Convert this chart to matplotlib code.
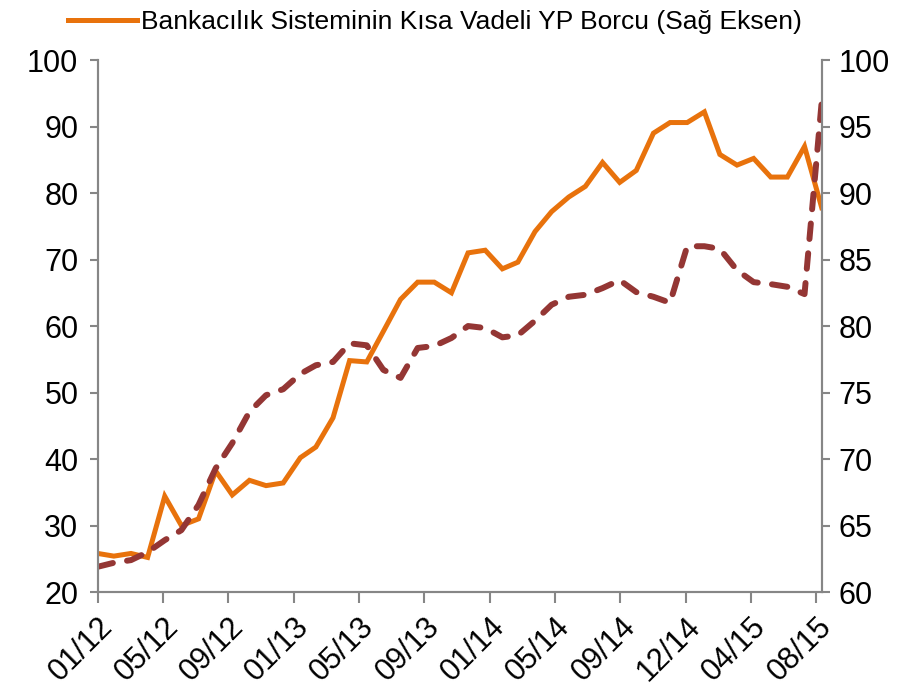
import matplotlib.pyplot as plt
from matplotlib.lines import Line2D
import numpy as np
import pandas as pd

plt.rcParams['font.family'] = ['Liberation Sans', 'DejaVu Sans']

# aylik veriler, 01/12 - 08/15
tarihler = pd.date_range('2012-01-31', periods=44, freq='ME')

# kesikli seri (sol eksen)
sol_seri = [23.8, 24.4, 24.8, 26.0, 27.8, 29.3, 33.1, 38.6, 42.4, 47.1,
            49.6, 50.5, 52.8, 54.1, 54.6, 57.4, 57.1, 53.4, 52.2, 56.7,
            57.0, 58.2, 60.0, 59.7, 58.3, 58.6, 60.8, 63.2, 64.4, 64.7,
            65.7, 66.9, 65.1, 64.4, 63.5, 72.0, 72.0, 71.6, 68.4, 66.6,
            66.3, 65.9, 64.8, 93.7]

# Bankacilik sisteminin kisa vadeli YP borcu (sag eksen)
kv_borc = [62.9, 62.7, 62.9, 62.6, 67.2, 65.0, 65.5, 69.1, 67.3, 68.4,
           68.0, 68.2, 70.1, 70.9, 73.1, 77.4, 77.3, 79.6, 82.0, 83.3,
           83.3, 82.5, 85.5, 85.7, 84.3, 84.8, 87.1, 88.6, 89.7, 90.5,
           92.3, 90.8, 91.7, 94.5, 95.3, 95.3, 96.1, 92.9, 92.1, 92.6,
           91.2, 91.2, 93.5, 88.9]

etiketler = ['01/12', '05/12', '09/12', '01/13', '05/13', '09/13',
             '01/14', '05/14', '09/14', '12/14', '04/15', '08/15']

turuncu = '#E8720C'
bordo = '#943634'
gri = '#868686'

fig = plt.figure(figsize=(9.14, 6.9), dpi=100)
ax1 = fig.add_axes([0.107, 0.142, 0.792, 0.771])
ax2 = ax1.twinx()

ax2.plot(tarihler, kv_borc, color=turuncu, lw=3.6, solid_joinstyle='miter')
ax1.plot(tarihler, sol_seri, color=bordo, lw=4.3, linestyle=(0, (2.6, 2.4)),
         dash_capstyle='round')

# kesikli seri ustte gorunsun
ax1.set_zorder(ax2.get_zorder() + 1)
ax1.patch.set_visible(False)

ax1.set_ylim(20, 100)
ax1.set_yticks(np.arange(20, 101, 10))
ax2.set_ylim(60, 100)
ax2.set_yticks(np.arange(60, 101, 5))

# tarih ekseni, 118 gunluk aralik
tik = [tarihler[0] + pd.Timedelta(days=118 * k) for k in range(len(etiketler))]
ax1.set_xlim(tarihler[0], tarihler[-1])
ax1.set_xticks(tik)
ax1.set_xticklabels(etiketler, rotation=45, ha='right', rotation_mode='anchor')

for ax in (ax1, ax2):
    ax.spines['top'].set_visible(False)
    for s in ('left', 'right', 'bottom'):
        ax.spines[s].set_color(gri)
        ax.spines[s].set_linewidth(1.5)
    ax.tick_params(axis='both', colors=gri, labelcolor='black', labelsize=22,
                   width=1.5, length=6, direction='out')
ax1.tick_params(axis='x', length=8, pad=6)
ax1.tick_params(axis='y', pad=8)
ax2.tick_params(axis='y', pad=6)

handle = Line2D([], [], color=turuncu, lw=3.6)
fig.legend([handle], ['Bankacılık Sisteminin Kısa Vadeli YP Borcu (Sağ Eksen)'],
           loc='upper center', bbox_to_anchor=(0.476, 1.02), frameon=False,
           fontsize=19, handlelength=2.6, handletextpad=0.15)

fig.savefig('out.png', dpi=100)
